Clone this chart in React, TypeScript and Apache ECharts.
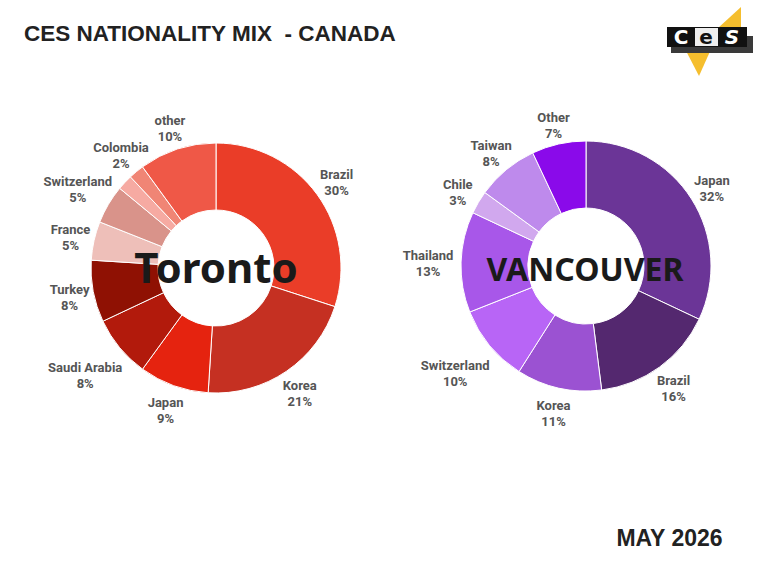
import React, { useEffect, useRef } from "react";
import * as echarts from "echarts";

const torontoNames = ["Brazil", "Korea", "Japan", "Saudi Arabia", "Turkey", "France", "Switzerland", "", "Colombia", "other"];
const torontoValues = [30, 21, 9, 8, 8, 5, 5, 2, 2, 10];
const torontoColors = ["#EA3D28", "#C53022", "#E5230F", "#B21A0C", "#8F1103", "#EEBFB9", "#D9938A", "#F6AAA2", "#F08575", "#EF5847"];

const vanNames = ["Japan", "Brazil", "Korea", "Switzerland", "Thailand", "Chile", "Taiwan", "Other"];
const vanValues = [32, 16, 11, 10, 13, 3, 8, 7];
const vanColors = ["#6B3597", "#54286F", "#9B52D2", "#B865F6", "#A857E9", "#D1A8EE", "#BE8AEC", "#8A0AEA"];

// label nudges [dx, dy] in px
const torontoShift: Record<string, number[]> = {
  "Saudi Arabia": [-16, 11],
  Switzerland: [-10, -5],
};
const vanShift: Record<string, number[]> = {
  Switzerland: [-16, 11],
  Thailand: [-9, 0],
  Other: [0, 3],
};

const LH = 16;

function buildSeries(
  names: string[],
  values: number[],
  colors: string[],
  center: [number, number],
  shifts: Record<string, number[]>
) {
  const ring = {
    type: "pie",
    center,
    radius: [58, 125],
    startAngle: 90,
    silent: true,
    label: { show: false },
    labelLine: { show: false },
    itemStyle: { borderColor: "#fff", borderWidth: 1 },
    data: names.map((n, i) => ({ name: n, value: values[i], itemStyle: { color: colors[i] } })),
  };
  const labels = {
    type: "pie",
    center: [center[0], center[1] + 2],
    radius: [125, 167],
    startAngle: 90,
    silent: true,
    itemStyle: { color: "rgba(0,0,0,0)" },
    labelLine: { show: false },
    label: {
      show: true,
      position: "inside",
      color: "#555",
      fontFamily: "Roboto",
      fontWeight: "bold",
      fontSize: 13,
      lineHeight: LH,
      formatter: (p: any) => {
        const s = shifts[p.name] || [0, 0];
        const dy = s[1];
        const body = `{t|${p.name}}\n{t|${p.value}%}`;
        if (dy > 0) return `{pad| }\n${body}`;
        if (dy < 0) return `${body}\n{pad| }`;
        return body;
      },
    },
    data: names.map((n, i) => {
      const s = shifts[n] || [0, 0];
      const dx = s[0];
      const dy = Math.abs(s[1]);
      const padding = dx < 0 ? [0, -2 * dx, 0, 0] : [0, 0, 0, 2 * dx];
      return {
        name: n,
        value: values[i],
        label:
          n === ""
            ? { show: false }
            : {
                show: true,
                padding,
                rich: {
                  t: { color: "#555", fontFamily: "Roboto", fontWeight: "bold", fontSize: 13, lineHeight: LH, align: "center" },
                  pad: { fontSize: 1, lineHeight: Math.max(1, 2 * dy), height: Math.max(1, 2 * dy) },
                },
              },
      };
    }),
  };
  return [ring, labels];
}

export default function App() {
  const ref = useRef<HTMLDivElement>(null);
  useEffect(() => {
    document.body.style.margin = "0";
    const chart = echarts.init(ref.current!, null, { renderer: "svg" });
    chart.setOption({
      animation: false,
      backgroundColor: "#fff",
      series: [
        ...buildSeries(torontoNames, torontoValues, torontoColors, [216, 268], torontoShift),
        ...buildSeries(vanNames, vanValues, vanColors, [586, 266], vanShift),
      ],
      graphic: [
        {
          type: "text",
          left: 24,
          top: 22,
          z: 100,
          style: {
            text: "CES NATIONALITY MIX  - CANADA",
            font: "bold 22.5px 'Liberation Sans', Arial, sans-serif",
            fill: "#222",
          },
        },
        {
          type: "text",
          right: 45,
          top: 526,
          z: 100,
          style: {
            text: "MAY 2026",
            font: "bold 23px 'Liberation Sans', Arial, sans-serif",
            fill: "#222",
          },
        },
        {
          type: "text",
          x: 216,
          y: 266,
          z: 100,
          style: {
            text: "Toronto",
            font: "bold 42px 'Noto Sans', 'Open Sans', sans-serif",
            fill: "#1a1a1a",
            textAlign: "center",
            textVerticalAlign: "middle",
          },
        },
        {
          type: "text",
          x: 585,
          y: 268,
          z: 100,
          style: {
            text: "VANCOUVER",
            font: "bold 32px 'Noto Sans', 'Open Sans', sans-serif",
            fill: "#1a1a1a",
            textAlign: "center",
            textVerticalAlign: "middle",
          },
        },
        // logo
        {
          type: "polygon",
          z: 100,
          shape: { points: [[684, 47], [712, 47], [699, 76]] },
          style: { fill: "#F5BE2E" },
        },
        {
          type: "polygon",
          z: 100,
          shape: { points: [[718, 28], [741, 7], [741, 28]] },
          style: { fill: "#F5BE2E" },
        },
        {
          type: "rect",
          z: 101,
          shape: { x: 671, y: 36, width: 82, height: 17 },
          style: { fill: "#3a3a3a" },
        },
        {
          type: "rect",
          z: 102,
          shape: { x: 667, y: 27, width: 80, height: 20 },
          style: { fill: "#111" },
        },
        {
          type: "rect",
          z: 103,
          shape: { x: 695, y: 28, width: 23, height: 18 },
          style: { fill: "#eee" },
        },
        {
          type: "text",
          z: 104,
          x: 681,
          y: 37,
          style: { text: "C", font: "bold 20px 'DejaVu Sans', sans-serif", fill: "#fff", textAlign: "center", textVerticalAlign: "middle" },
        },
        {
          type: "text",
          z: 104,
          x: 706,
          y: 37,
          style: { text: "e", font: "bold 20px 'DejaVu Sans', sans-serif", fill: "#111", textAlign: "center", textVerticalAlign: "middle" },
        },
        {
          type: "text",
          z: 104,
          x: 732,
          y: 37,
          style: { text: "S", font: "italic bold 20px 'DejaVu Sans', sans-serif", fill: "#fff", textAlign: "center", textVerticalAlign: "middle" },
        },
      ],
    });
    return () => chart.dispose();
  }, []);
  return <div ref={ref} style={{ width: 768, height: 576 }} />;
}
